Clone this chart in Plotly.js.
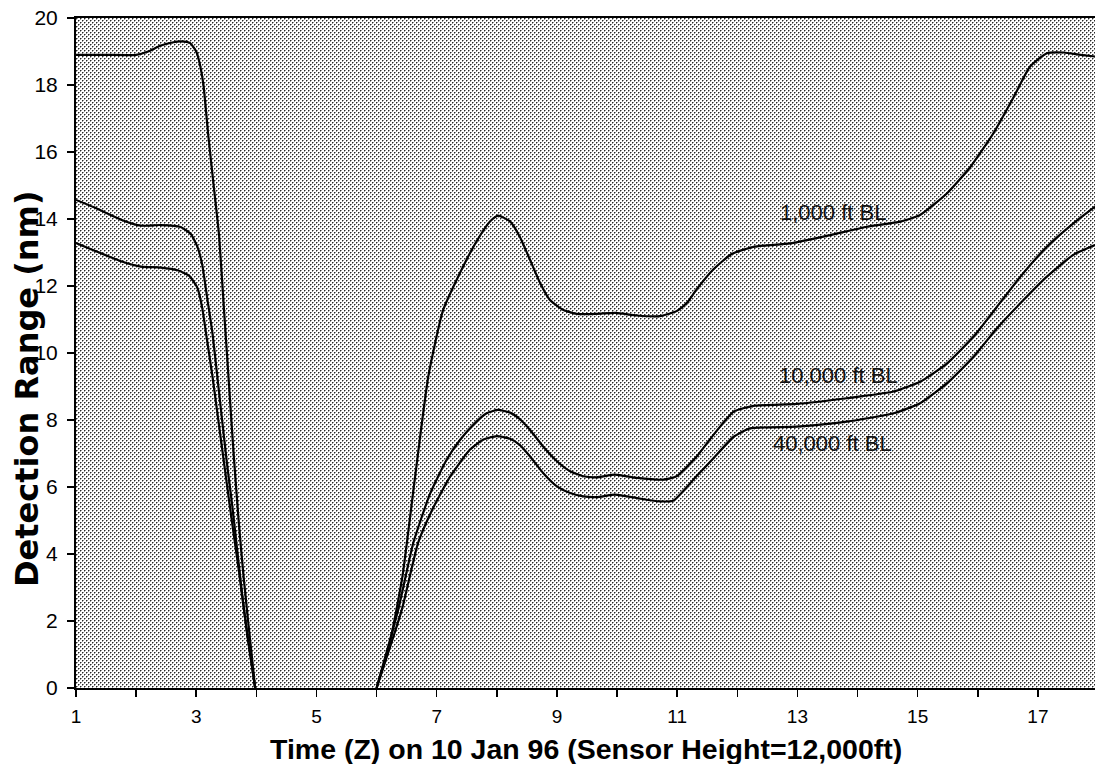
<!DOCTYPE html>
<html>
<head>
<meta charset="utf-8">
<script src="https://cdn.plot.ly/plotly-3.0.1.min.js"></script>
<style>
  html, body { margin: 0; padding: 0; background: #ffffff; }
  #chart { width: 1095px; height: 764px; }
</style>
</head>
<body>
<div id="chart"></div>
<script>
// ---------------- data ----------------
// 1,000 ft BL
const hours1k = [1.0, 1.5, 2.0, 2.2, 2.4, 2.6, 2.75, 2.9, 3.0, 3.05, 3.12, 3.2, 3.29, 3.38, 3.46, 3.54, 3.62, 3.71, 3.79, 3.87, 3.98,
                 null,
                 6.0, 6.22, 6.43, 6.64, 6.86, 7.11, 7.5, 7.72, 7.89, 8.02, 8.22, 8.38, 8.55, 8.72, 8.88, 9.1, 9.33, 9.66, 9.97, 10.33, 10.71, 10.99,
                 11.16, 11.32, 11.6, 11.9, 12.27, 12.88, 13.55, 14.16, 14.71, 15.04, 15.49, 15.88, 16.26, 16.6, 16.87, 17.15, 17.43, 17.71, 17.95];
const range1k = [18.9, 18.9, 18.9, 19.0, 19.17, 19.27, 19.3, 19.25, 19.0, 18.7, 18.0, 16.5, 15.0, 13.5, 11.34, 9.19, 7.04, 4.89, 3.28, 1.88, 0,
                 null,
                 0, 1.35, 3.33, 6.3, 9.3, 11.3, 12.8, 13.5, 13.93, 14.1, 13.93, 13.48, 12.79, 12.09, 11.59, 11.29, 11.17, 11.17, 11.2, 11.12, 11.1, 11.25,
                 11.49, 11.89, 12.49, 12.95, 13.17, 13.27, 13.52, 13.77, 13.92, 14.12, 14.77, 15.56, 16.56, 17.65, 18.55, 18.95, 18.97, 18.9, 18.85];

// 10,000 ft BL
const hours10k = [1.0, 1.3, 1.75, 2.08, 2.41, 2.74, 2.91, 3.02, 3.1, 3.18, 3.27, 3.35, 3.43, 3.51, 3.6, 3.68, 3.76, 3.85, 3.98,
                  null,
                  6.0, 6.36, 6.61, 6.89, 7.16, 7.39, 7.61, 7.83, 8.02, 8.22, 8.38, 8.55, 8.77, 9.0, 9.22, 9.44, 9.66, 9.97, 10.33, 10.77, 10.99,
                  11.32, 11.6, 11.94, 12.27, 12.99, 13.82, 14.6, 15.04, 15.49, 15.93, 16.32, 16.71, 17.15, 17.59, 17.95];
const range10k = [14.57, 14.35, 13.98, 13.8, 13.82, 13.76, 13.55, 13.17, 12.63, 11.67, 10.59, 9.3, 8.0, 6.72, 5.43, 4.14, 2.85, 1.56, 0,
                  null,
                  0, 2.34, 4.33, 5.8, 6.8, 7.41, 7.86, 8.2, 8.3, 8.22, 8.03, 7.71, 7.21, 6.77, 6.47, 6.32, 6.29, 6.37, 6.27, 6.22, 6.32,
                  6.9, 7.55, 8.25, 8.42, 8.48, 8.65, 8.85, 9.14, 9.69, 10.49, 11.38, 12.28, 13.17, 13.87, 14.37];

// 40,000 ft BL
const hours40k = [1.0, 1.3, 1.75, 2.08, 2.41, 2.69, 2.88, 3.02, 3.1, 3.18, 3.27, 3.35, 3.43, 3.51, 3.6, 3.71, 3.82, 3.98,
                  null,
                  6.0, 6.42, 6.69, 6.92, 7.22, 7.55, 7.77, 8.0, 8.22, 8.38, 8.55, 8.77, 9.0, 9.22, 9.44, 9.66, 9.97, 10.33, 10.71, 10.94,
                  11.32, 11.6, 11.94, 12.21, 12.99, 13.82, 14.6, 15.04, 15.49, 15.93, 16.32, 16.76, 17.15, 17.59, 17.95];
const range40k = [13.28, 13.06, 12.74, 12.58, 12.55, 12.47, 12.31, 11.94, 11.34, 10.38, 9.3, 8.23, 7.15, 6.08, 4.89, 3.49, 1.99, 0,
                  null,
                  0, 2.34, 4.33, 5.3, 6.3, 7.11, 7.41, 7.52, 7.44, 7.26, 6.92, 6.42, 6.02, 5.82, 5.72, 5.7, 5.77, 5.67, 5.57, 5.6,
                  6.32, 6.85, 7.5, 7.75, 7.8, 7.95, 8.2, 8.5, 9.1, 9.89, 10.74, 11.58, 12.28, 12.93, 13.22];

const seriesLabels = ['1,000 ft BL', '10,000 ft BL', '40,000 ft BL'];

const xTickVals = [1, 2, 3, 4, 5, 6, 7, 8, 9, 10, 11, 12, 13, 14, 15, 16, 17];
const xTickText = ['1', '', '3', '', '5', '', '7', '', '9', '', '11', '', '13', '', '15', '', '17'];
const yTickVals = [0, 2, 4, 6, 8, 10, 12, 14, 16, 18, 20];

const xTitle = 'Time (Z) on 10 Jan 96 (Sensor Height=12,000ft)';
const yTitle = 'Detection Range (nm)';

// ---------------- stipple background ----------------
function stipple(w, h) {
  const c = document.createElement('canvas');
  c.width = w; c.height = h;
  const ctx = c.getContext('2d');
  const img = ctx.createImageData(w, h);
  for (let y = 0; y < h; y++) {
    for (let x = 0; x < w; x++) {
      const cx = x % 4, cy = y % 4;
      let v = 255;
      if ((cx === 0 && cy === 0) || (cx === 2 && cy === 2)) v = 40;
      else if ((cx === 1 && cy === 0) || (cx === 0 && cy === 1) || (cx === 3 && cy === 2) || (cx === 2 && cy === 3)) v = 150;
      const i = (y * w + x) * 4;
      img.data[i] = v; img.data[i + 1] = v; img.data[i + 2] = v; img.data[i + 3] = 255;
    }
  }
  ctx.putImageData(img, 0, 0);
  return c.toDataURL('image/png');
}

const W = 1095, H = 764;
const M = { l: 76, r: 0, t: 18, b: 76 };
const plotW = W - M.l - M.r, plotH = H - M.t - M.b;

const FONT = 'Arial, "Liberation Sans", Helvetica, sans-serif';
const lineStyle = { color: '#000000', width: 2.2, shape: 'spline', smoothing: 0.5 };

const traces = [
  { x: hours1k, y: range1k, name: seriesLabels[0] },
  { x: hours10k, y: range10k, name: seriesLabels[1] },
  { x: hours40k, y: range40k, name: seriesLabels[2] }
].map(t => Object.assign(t, { type: 'scatter', mode: 'lines', line: lineStyle, connectgaps: false, hoverinfo: 'skip' }));

const layout = {
  width: W, height: H,
  margin: M,
  paper_bgcolor: '#ffffff',
  plot_bgcolor: 'rgba(0,0,0,0)',
  showlegend: false,
  font: { family: FONT, color: '#000000', size: 20 },
  xaxis: {
    range: [1, 17.95],
    tickvals: xTickVals, ticktext: xTickText,
    ticks: 'outside', ticklen: 7, tickwidth: 1.5, tickcolor: '#000',
    showline: true, linecolor: '#000', linewidth: 2, mirror: true,
    showgrid: false, zeroline: false,
    tickfont: { family: FONT, size: 19, color: '#000' },
    ticklabelstandoff: 3
  },
  yaxis: {
    range: [0, 20],
    tickvals: yTickVals,
    ticks: 'outside', ticklen: 7, tickwidth: 1.5, tickcolor: '#000',
    showline: true, linecolor: '#000', linewidth: 2,
    showgrid: false, zeroline: false,
    tickfont: { family: FONT, size: 21, color: '#000' },
    ticklabelstandoff: 5
  },
  images: [{
    source: stipple(plotW, plotH),
    xref: 'paper', yref: 'paper', x: 0, y: 1, sizex: 1, sizey: 1,
    xanchor: 'left', yanchor: 'top', sizing: 'stretch', layer: 'below'
  }],
  annotations: [
    { text: seriesLabels[0], x: 13.6, y: 14.2, xref: 'x', yref: 'y', showarrow: false,
      font: { family: FONT, size: 22, color: '#111' } },
    { text: seriesLabels[1], x: 13.68, y: 9.34, xref: 'x', yref: 'y', showarrow: false,
      font: { family: FONT, size: 22, color: '#111' } },
    { text: seriesLabels[2], x: 13.58, y: 7.31, xref: 'x', yref: 'y', showarrow: false,
      font: { family: FONT, size: 22, color: '#111' } },
    { text: '<b>' + xTitle + '</b>', xref: 'paper', yref: 'paper', x: 0.5, y: (688 - 749) / plotH,
      xanchor: 'center', yanchor: 'middle', showarrow: false,
      font: { family: FONT, size: 28.5, color: '#000' } },
    { text: '<b>' + yTitle + '</b>', xref: 'paper', yref: 'paper', x: (27 - M.l) / plotW, y: (688 - 389) / plotH,
      xanchor: 'center', yanchor: 'middle', textangle: -90, showarrow: false,
      font: { family: '"DejaVu Sans", Arial, sans-serif', size: 32, color: '#000' } }
  ]
};

Plotly.newPlot('chart', traces, layout, { staticPlot: true, displayModeBar: false });
</script>
</body>
</html>
